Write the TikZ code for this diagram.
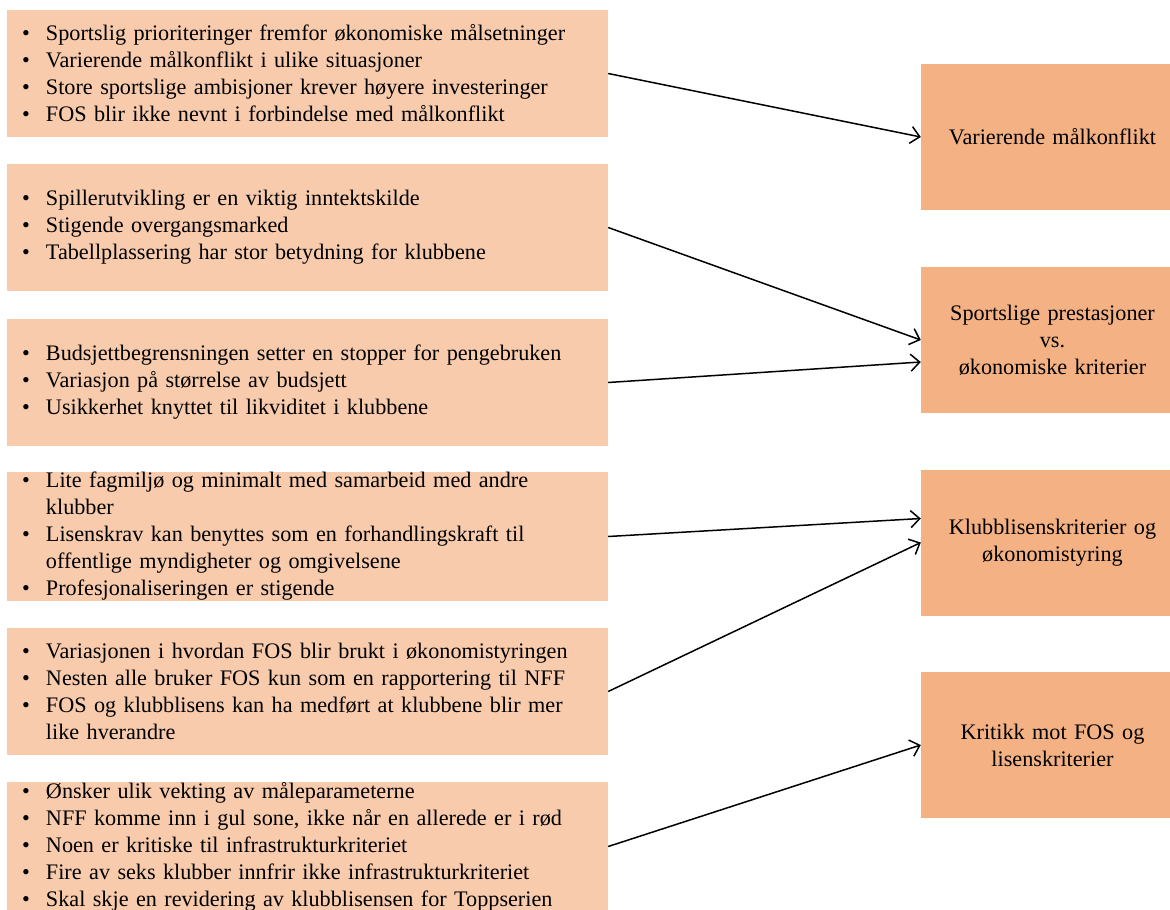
\documentclass[tikz,border=0pt]{standalone}
\usepackage{fontspec}
\setmainfont{Liberation Serif}
\usetikzlibrary{arrows.meta}
\definecolor{leftfill}{HTML}{F8CBAD}
\definecolor{rightfill}{HTML}{F4B183}
\newcommand{\itm}{\makebox[24pt][l]{\textbullet}}
\newcommand{\cnt}{\hspace*{24pt}}
\tikzset{
  leftbox/.style={fill=leftfill, draw=none, minimum width=601pt, minimum height=127pt,
    text width=571pt, inner xsep=15pt, inner ysep=0pt, align=left,
    font=\fontsize{22.2}{27}\selectfont},
  rightbox/.style={fill=rightfill, draw=none, minimum width=263pt, minimum height=146pt,
    text width=257pt, inner xsep=3pt, inner ysep=0pt, align=center,
    font=\fontsize{22.2}{27}\selectfont},
  conn/.style={line width=1.5pt, -{Straight Barb[length=9pt,width=17pt,line width=1.5pt]}}
}
\begin{document}
\begin{tikzpicture}[x=1pt,y=-1pt]
\useasboundingbox (0,0) rectangle (1170,910);
\clip (0,0) rectangle (1170,910);
\fill[white] (0,0) rectangle (1170,910);

\node[leftbox] (b1) at (307.5,73.5) {\itm Sportslig prioriteringer fremfor økonomiske målsetninger\\
\itm Varierende målkonflikt i ulike situasjoner\\
\itm Store sportslige ambisjoner krever høyere investeringer\\
\itm FOS blir ikke nevnt i forbindelse med målkonflikt};

\node[leftbox] (b2) at (307.5,227.5) {\itm Spillerutvikling er en viktig inntektskilde\\
\itm Stigende overgangsmarked\\
\itm Tabellplassering har stor betydning for klubbene};

\node[leftbox] (b3) at (307.5,382.5) {\itm Budsjettbegrensningen setter en stopper for pengebruken\\
\itm Variasjon på størrelse av budsjett\\
\itm Usikkerhet knyttet til likviditet i klubbene};

\node[leftbox] (b4) at (307.5,536.5) {\itm Lite fagmiljø og minimalt med samarbeid med andre\\
\cnt klubber\\
\itm Lisenskrav kan benyttes som en forhandlingskraft til\\
\cnt offentlige myndigheter og omgivelsene\\
\itm Profesjonaliseringen er stigende};

\node[leftbox] (b5) at (307.5,691.5) {\itm Variasjonen i hvordan FOS blir brukt i økonomistyringen\\
\itm Nesten alle bruker FOS kun som en rapportering til NFF\\
\itm FOS og klubblisens kan ha medført at klubbene blir mer\\
\cnt like hverandre};

\node[leftbox] (b6) at (307.5,846.5) {\itm Ønsker ulik vekting av måleparameterne\\
\itm NFF komme inn i gul sone, ikke når en allerede er i rød\\
\itm Noen er kritiske til infrastrukturkriteriet\\
\itm Fire av seks klubber innfrir ikke infrastrukturkriteriet\\
\itm Skal skje en revidering av klubblisensen for Toppserien};

\node[rightbox] (r1) at (1052.5,137) {Varierende målkonflikt};
\node[rightbox] (r2) at (1052.5,340) {Sportslige prestasjoner\\vs.\\økonomiske kriterier};
\node[rightbox] (r3) at (1052.5,542.5) {Klubblisenskriterier og\\økonomistyring};
\node[rightbox] (r4) at (1052.5,745) {Kritikk mot FOS og\\lisenskriterier};

\draw[conn] (b1.east) -- (r1.west);
\draw[conn] (b2.east) -- (r2.west);
\draw[conn] (b3.east) -- ([yshift=-22pt]r2.west);
\draw[conn] (b4.east) -- ([yshift=24pt]r3.west);
\draw[conn] (b5.east) -- (r3.west);
\draw[conn] (b6.east) -- (r4.west);
\end{tikzpicture}
\end{document}
